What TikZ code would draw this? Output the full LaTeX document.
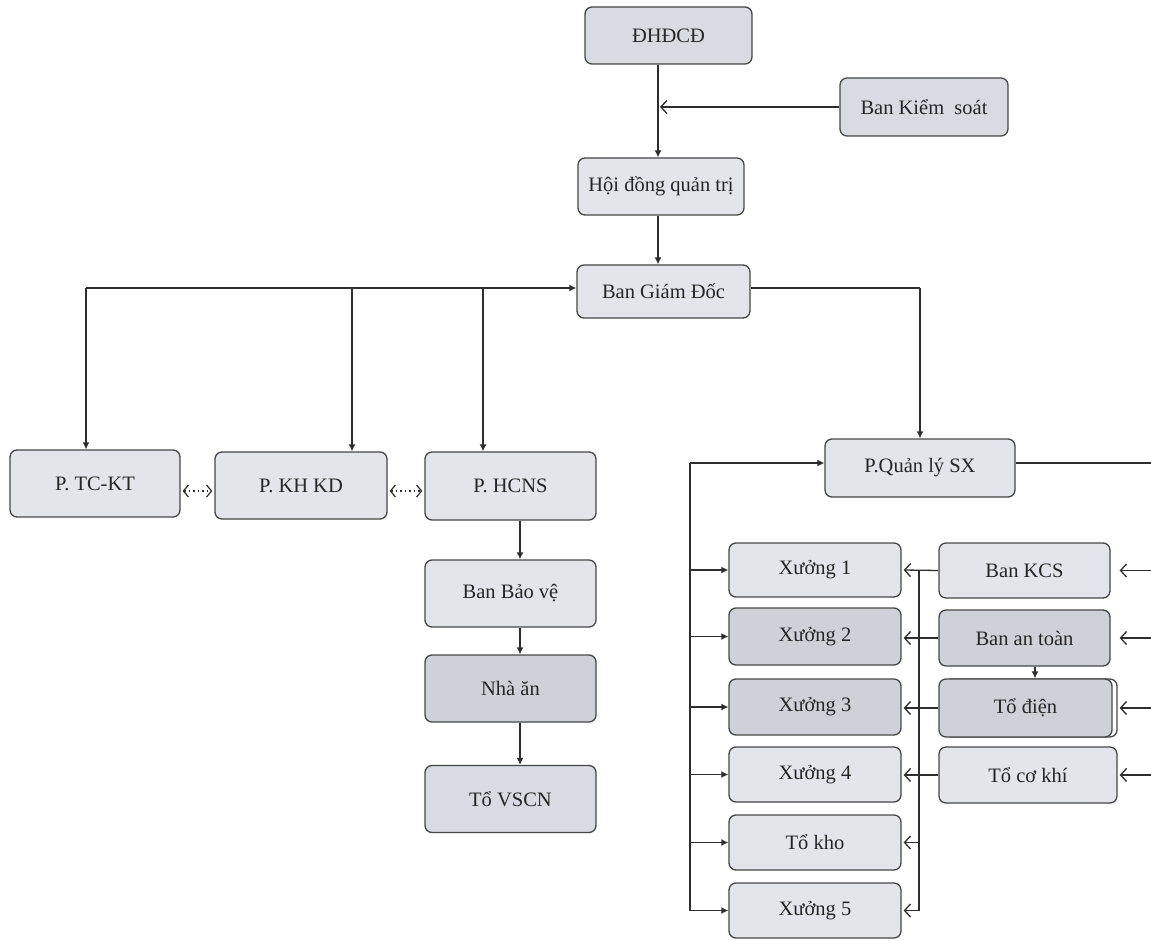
\documentclass[tikz,border=0pt]{standalone}
\usepackage{fontspec}
\setmainfont{Liberation Serif}
\usetikzlibrary{arrows.meta}
\definecolor{bordc}{HTML}{474747}
\definecolor{lightc}{HTML}{E3E5EA}
\definecolor{darkc}{HTML}{CED1D8}
\definecolor{midc}{HTML}{D8DBE1}
\definecolor{txtc}{HTML}{262626}
\definecolor{linec}{HTML}{2E2E2E}
\tikzset{
  box/.style={draw=bordc, line width=1.3pt, rounded corners=7pt, fill=lightc,
    text=txtc, font=\fontsize{20.5}{24}\selectfont, inner sep=0pt},
  darkbox/.style={box, fill=darkc},
  midbox/.style={box, fill=midc},
  conn/.style={draw=linec, line width=1.3pt},
  arr/.style={conn, -{Latex[length=7pt,width=7pt]}},
  oarr/.style={conn, -{Straight Barb[length=6pt,width=13pt]}},
  dotarr/.style={draw=linec, line width=1.2pt, dash pattern=on 1.5pt off 3pt,
    {Straight Barb[length=5pt,width=12pt,line width=1.2pt]}-{Straight Barb[length=5pt,width=12pt,line width=1.2pt]}}
}
\begin{document}
\begin{tikzpicture}[x=1pt,y=-1pt]
\fill[white] (0,0) rectangle (1151,941);
\useasboundingbox (0,0) rectangle (1151,941);

% top chain
\node[midbox, minimum width=167pt, minimum height=57pt] (dhd) at (668.5,35.5) {ĐHĐCĐ};
\node[midbox, minimum width=168pt, minimum height=58pt] (ks) at (924,107) {Ban Kiểm\ \ soát};
\node[box, minimum width=166pt, minimum height=57pt] (hdqt) at (661,186.5) {Hội đồng quản trị};
\node[box, minimum width=173pt, minimum height=53pt] (bgd) at (663.5,291.5) {Ban Giám Đốc};

% left departments
\node[box, minimum width=170pt, minimum height=67pt] (tckt) at (95,483.5) {P. TC-KT};
\node[box, minimum width=172pt, minimum height=67pt] (khkd) at (301,485.5) {P. KH KD};
\node[box, minimum width=171pt, minimum height=68pt] (hcns) at (510.5,486) {P. HCNS};
\node[box, minimum width=171pt, minimum height=67pt] (bbv) at (510.5,593.5) {Ban Bảo vệ};
\node[darkbox, minimum width=171pt, minimum height=67pt] (nha) at (510.5,688.5) {Nhà ăn};
\node[midbox, minimum width=171pt, minimum height=67pt] (vscn) at (510.5,799) {Tổ VSCN};

% production
\node[box, minimum width=190pt, minimum height=58pt] (qlsx) at (920,468) {P.Quản lý SX};
\node[box, minimum width=172pt, minimum height=54pt] (x1) at (815,570) {Xưởng 1};
\node[darkbox, minimum width=172pt, minimum height=57pt] (x2) at (815,636.5) {Xưởng 2};
\node[darkbox, minimum width=172pt, minimum height=56pt] (x3) at (815,707) {Xưởng 3};
\node[box, minimum width=172pt, minimum height=55pt] (x4) at (815,774.5) {Xưởng 4};
\node[box, minimum width=172pt, minimum height=55pt] (kho) at (815,842.5) {Tổ kho};
\node[box, minimum width=172pt, minimum height=55pt] (x5) at (815,910.5) {Xưởng 5};

\node[box, minimum width=171pt, minimum height=55pt] (kcs) at (1024.5,570.5) {Ban KCS};
\node[darkbox, minimum width=171pt, minimum height=56pt] (at) at (1024.5,638) {Ban an toàn};
\node[box, fill=white, minimum width=173pt, minimum height=58pt] (dienbg) at (1030.5,708) {};
\node[darkbox, minimum width=173pt, minimum height=58pt] (dien) at (1025.5,708) {Tổ điện};
\node[box, minimum width=178pt, minimum height=56pt] (ck) at (1028,775) {Tổ cơ khí};

% helper coordinates
\coordinate (V) at (658,100);
\coordinate (H) at (0,288);
\coordinate (L) at (690,0);
\coordinate (M) at (919,0);
\coordinate (R) at (1151,0);
\coordinate (D) at (520,0);
\coordinate (Dot) at (0,491);
\coordinate (Q) at (0,463);
\coordinate (S) at (1035,0);

% top connectors
\draw[arr] (dhd.south -| V) -- (hdqt.north -| V);
\draw[oarr] (ks.west) -- ([xshift=2pt]ks.west -| V);
\draw[arr] (hdqt.south -| V) -- (bgd.north -| V);

% BGD to left
\coordinate (lft) at (86,288);
\draw[arr] (lft) -- (bgd.west |- H);
\draw[arr] (lft) -- (tckt.north -| lft);
\coordinate (k1) at (352,288);
\draw[arr] (k1) -- (khkd.north -| k1);
\coordinate (k2) at (483,288);
\draw[arr] (k2) -- (hcns.north -| k2);

% BGD to right
\coordinate (rt) at (920,288);
\draw[conn] (bgd.east |- H) -- (rt);
\draw[arr] (rt) -- (qlsx.north -| rt);

% dotted between departments
\draw[dotarr] ([xshift=2pt]tckt.east |- Dot) -- ([xshift=-2pt]khkd.west |- Dot);
\draw[dotarr] ([xshift=2pt]khkd.east |- Dot) -- ([xshift=-2pt]hcns.west |- Dot);

% HCNS chain
\draw[arr] (hcns.south -| D) -- (bbv.north -| D);
\draw[arr] (bbv.south -| D) -- (nha.north -| D);
\draw[arr] (nha.south -| D) -- (vscn.north -| D);

% left bus of production
\coordinate (ltop) at (690,463);
\coordinate (lbot) at (690,911);
\draw[conn] (ltop) -- (lbot);
\draw[arr] (ltop) -- (qlsx.west |- Q);
\foreach \n in {x1,x2,x3,x4,kho,x5}{
  \draw[arr] (\n.west -| L) -- (\n.west);
}

% middle bus
\coordinate (mtop) at (919,570);
\coordinate (mbot) at (919,911);
\draw[conn] (mtop) -- (mbot);
\draw[oarr] (kcs.west) -- ([xshift=2pt]x1.east);
\draw[oarr] (at.west) -- ([xshift=2pt]x2.east |- at.west);
\draw[oarr] (dien.west) -- ([xshift=2pt]x3.east |- dien.west);
\draw[oarr] (ck.west) -- ([xshift=2pt]x4.east |- ck.west);
\draw[oarr] (kho.east -| M) -- ([xshift=2pt]kho.east);
\draw[oarr] (x5.east -| M) -- ([xshift=2pt]x5.east);

% Ban an toan to To dien
\draw[arr] (at.south -| S) -- (dien.north -| S);

% right bus
\draw[conn] (qlsx.east |- Q) -- (R |- Q);
\draw[oarr] (R |- kcs.east) -- ([xshift=9pt]kcs.east);
\draw[oarr] (R |- at.east) -- ([xshift=9pt]at.east);
\draw[oarr] (R |- dienbg.east) -- ([xshift=2pt]dienbg.east);
\draw[oarr] (R |- ck.east) -- ([xshift=2pt]ck.east);
\end{tikzpicture}
\end{document}
